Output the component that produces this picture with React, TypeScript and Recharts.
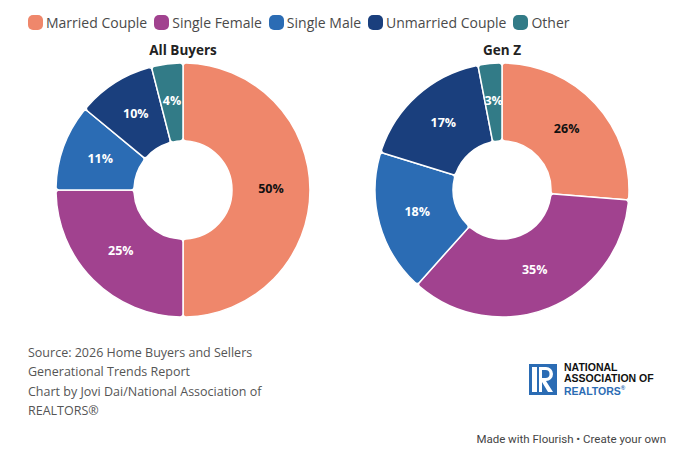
import * as React from 'react';
import { PieChart, Pie, Cell } from 'recharts';

const categories = ['Married Couple', 'Single Female', 'Single Male', 'Unmarried Couple', 'Other'];
const colors = ['#EF876B', '#A1428F', '#2B6CB4', '#1A3F7D', '#327B87'];
const allBuyers = [50, 25, 11, 10, 4];
const genZ = [26, 35, 18, 17, 3];
const titles = ['All Buyers', 'Gen Z'];
const sourceLines = [
  'Source: 2026 Home Buyers and Sellers',
  'Generational Trends Report',
  'Chart by Jovi Dai/National Association of',
  'REALTORS®',
];

const FONT = "'Open Sans', 'Noto Sans', sans-serif";
const RAD = Math.PI / 180;

const renderLabel = (props: any) => {
  const { cx, cy, midAngle, innerRadius, outerRadius, value, index } = props;
  const r = (innerRadius + outerRadius) / 2;
  const x = cx + r * Math.cos(-midAngle * RAD);
  const y = cy + r * Math.sin(-midAngle * RAD) - 2;
  return (
    <text
      x={x}
      y={y}
      textAnchor="middle"
      dominantBaseline="central"
      fontFamily={FONT}
      fontSize={12.5}
      fontWeight={700}
      fill={index === 0 ? '#111' : '#fff'}
    >
      {`${value}%`}
    </text>
  );
};

const toRows = (values: number[]) => categories.map((name, i) => ({ name, value: values[i] }));

export default function App() {
  return (
    <div
      style={{
        position: 'absolute',
        left: 0,
        top: 0,
        width: 680,
        height: 450,
        background: '#fff',
        fontFamily: FONT,
      }}
    >
      {/* legend */}
      <div style={{ position: 'absolute', left: 28, top: 13, display: 'flex', alignItems: 'center' }}>
        {categories.map((c, i) => (
          <div key={c} style={{ display: 'flex', alignItems: 'center', marginRight: 7 }}>
            <span
              style={{
                width: 15,
                height: 15,
                borderRadius: 5,
                background: colors[i],
                display: 'inline-block',
                marginRight: 3,
              }}
            />
            <span style={{ fontSize: 14, color: '#4a4a4a' }}>{c}</span>
          </div>
        ))}
      </div>

      {/* titles */}
      {titles.map((t, i) => (
        <div
          key={t}
          style={{
            position: 'absolute',
            left: i === 0 ? 83 : 402,
            width: 200,
            top: 41,
            textAlign: 'center',
            fontSize: 13.5,
            fontWeight: 700,
            color: '#222',
          }}
        >
          {t}
        </div>
      ))}

      <div style={{ position: 'absolute', left: 0, top: 0 }}>
        <PieChart width={680} height={330} margin={{ top: 0, right: 0, bottom: 0, left: 0 }}>
          <Pie
            data={toRows(allBuyers)}
            dataKey="value"
            cx={183}
            cy={190}
            innerRadius={49}
            outerRadius={127}
            startAngle={90}
            endAngle={-270}
            stroke="#fff"
            strokeWidth={1.5}
            cornerRadius={3}
            label={renderLabel}
            labelLine={false}
            isAnimationActive={false}
          >
            {allBuyers.map((_, i) => (
              <Cell key={i} fill={colors[i]} />
            ))}
          </Pie>
          <Pie
            data={toRows(genZ)}
            dataKey="value"
            cx={502}
            cy={190}
            innerRadius={49}
            outerRadius={127}
            startAngle={90}
            endAngle={-270}
            stroke="#fff"
            strokeWidth={1.5}
            cornerRadius={3}
            label={renderLabel}
            labelLine={false}
            isAnimationActive={false}
          >
            {genZ.map((_, i) => (
              <Cell key={i} fill={colors[i]} />
            ))}
          </Pie>
        </PieChart>
      </div>

      {/* source */}
      <div
        style={{
          position: 'absolute',
          left: 28,
          top: 343,
          fontSize: 12.5,
          lineHeight: '19.3px',
          color: '#555',
        }}
      >
        {sourceLines.map((l) => (
          <div key={l}>{l}</div>
        ))}
      </div>

      {/* logo */}
      <div style={{ position: 'absolute', left: 529, top: 362, display: 'flex', alignItems: 'center' }}>
        <svg width={28} height={31} viewBox="0 0 28 31">
          <rect width={28} height={31} fill="#2B6CB4" />
          <rect x={3} y={3} width={5} height={25} fill="#fff" />
          <path d="M10 3 H17 a7 7 0 0 1 0 14 L24 28 H19 L13 18 V28 H10 Z M13 6 V14 H16.5 a4 4 0 0 0 0 -8 Z" fill="#fff" />
        </svg>
        <div
          style={{
            marginLeft: 7,
            fontFamily: "'Liberation Sans', Arial, sans-serif",
            fontWeight: 700,
            fontSize: 10.5,
            lineHeight: '10.5px',
            color: '#111',
          }}
        >
          <div>NATIONAL</div>
          <div>ASSOCIATION OF</div>
          <div style={{ color: '#2B6CB4' }}>
            REALTORS<sup style={{ fontSize: 6 }}>®</sup>
          </div>
        </div>
      </div>

      {/* footer */}
      <div
        style={{
          position: 'absolute',
          right: 14,
          top: 432,
          fontSize: 11.5,
          color: '#444',
          fontFamily: "Roboto, sans-serif",
        }}
      >
        Made with Flourish • Create your own
      </div>
    </div>
  );
}
